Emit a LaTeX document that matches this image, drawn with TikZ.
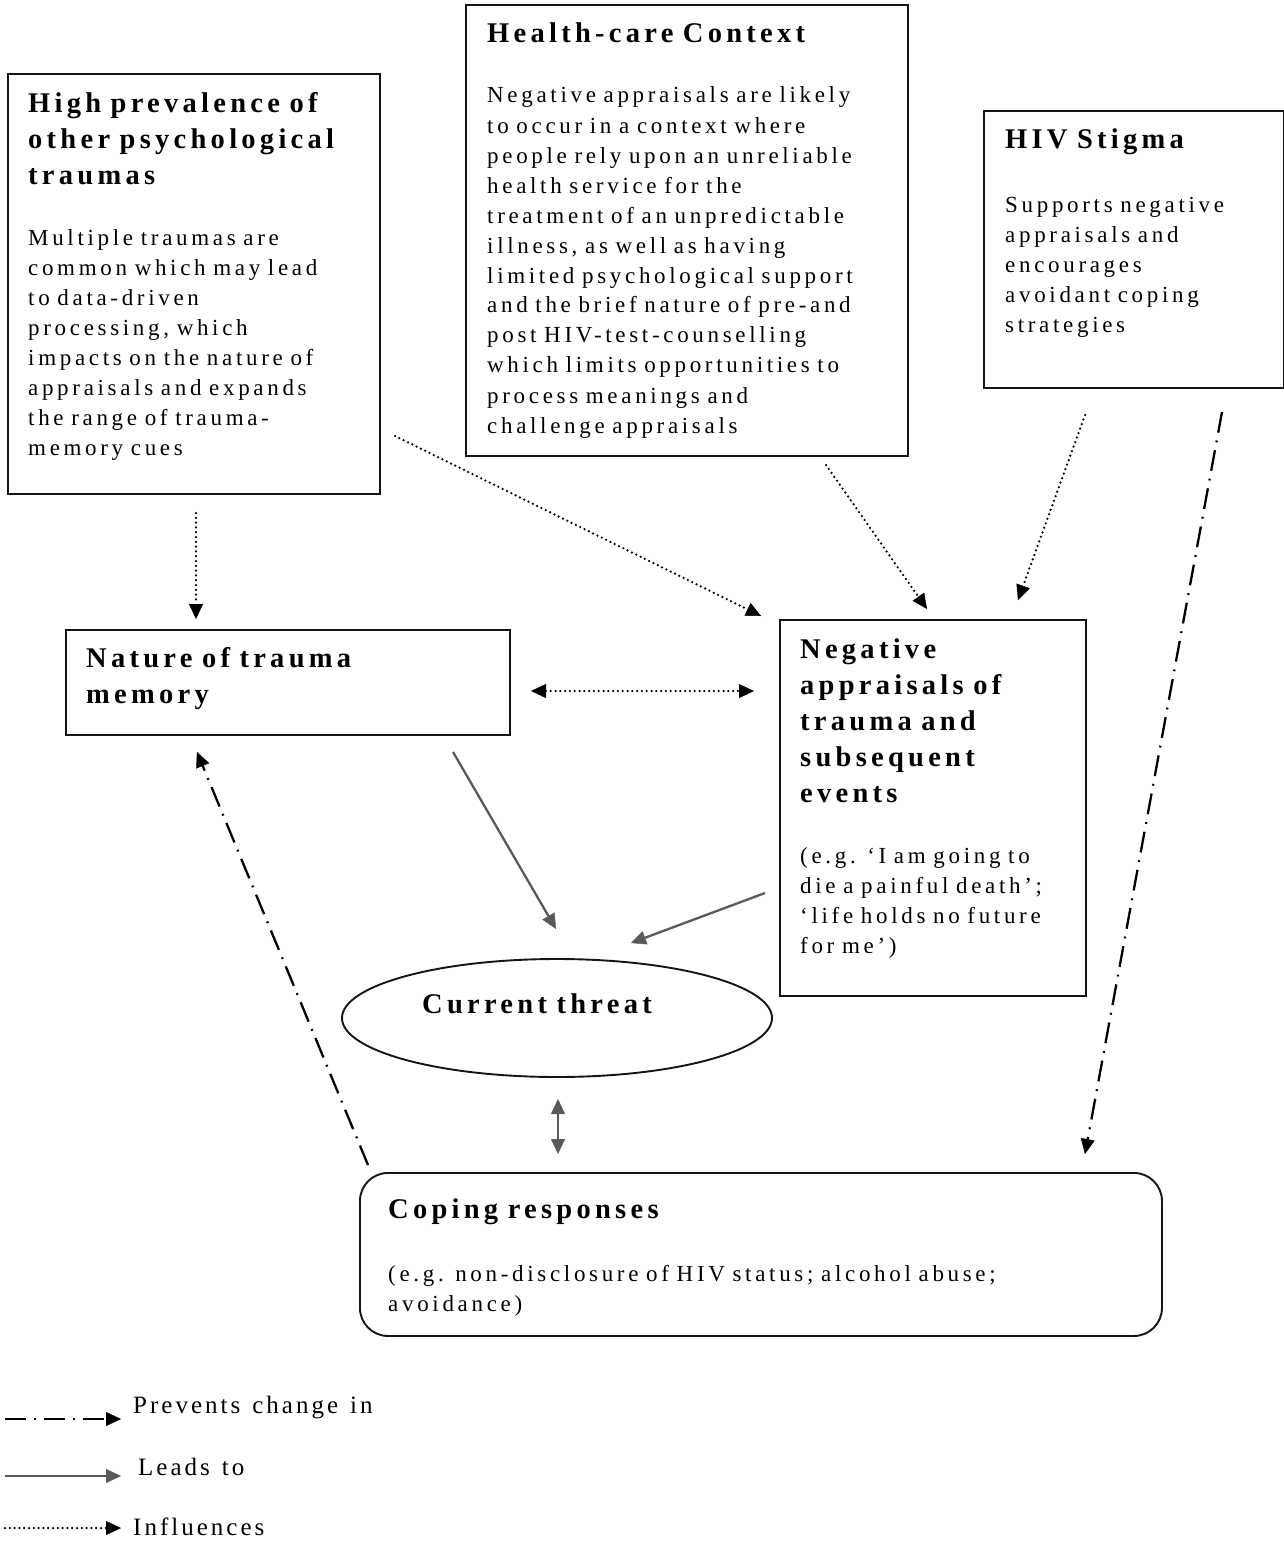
\documentclass[tikz,border=0pt]{standalone}
\usepackage{fontspec}
\setmainfont{Liberation Serif}
\newfontfamily\bodyfam{Liberation Serif}[LetterSpace=16]
\newfontfamily\titlefam{Liberation Serif}[LetterSpace=15]
\newfontfamily\legfam{Liberation Serif}[LetterSpace=12]
\usetikzlibrary{arrows.meta,shapes.geometric}
\definecolor{leadgray}{HTML}{5A5A5A}
\definecolor{boxline}{HTML}{151515}
\tikzset{
  box/.style={draw=boxline, line width=1.9pt, rectangle, inner sep=0pt, anchor=north west},
  ttl/.style={anchor=base west, inner sep=0pt, text width=440pt, align=left,
              font={\titlefam\bfseries\fontsize{28.5}{36}\selectfont\spaceskip=15pt plus 2pt\relax}},
  bdy/.style={anchor=base west, inner sep=0pt, text width=700pt, align=left,
              font={\bodyfam\fontsize{23}{30}\selectfont\spaceskip=12pt plus 2pt\relax}},
  leg/.style={anchor=base west, inner sep=0pt,
              font={\legfam\fontsize{25}{30}\selectfont\spaceskip=12pt plus 2pt\relax}},
  tipk/.tip={Triangle[length=15pt,width=14pt,line width=0.4pt]},
  infl/.style={line width=2.5pt, dash pattern=on 0pt off 4.8pt, line cap=round, black},
  prev/.style={line width=2.3pt, dash pattern=on 21pt off 8pt on 1.8pt off 8pt, black},
  lead/.style={line width=2.3pt, leadgray},
}
\begin{document}
\begin{tikzpicture}[x=1pt,y=-1pt]
\useasboundingbox (0,0) rectangle (1283,1544);
\fill[white] (0,0) rectangle (1283,1544);

% ---- boxes ----
\node[box, minimum width=372pt, minimum height=420pt] (A) at (7,73) {};
\node[ttl] (Atitle) at (28,113) {High prevalence of\\other psychological\\traumas};
\node[bdy] (Abody) at (28,245) {Multiple traumas are\\common which may lead\\to data-driven\\processing, which\\impacts on the nature of\\appraisals and expands\\the range of trauma-\\memory cues};

\node[box, minimum width=442pt, minimum height=451pt] (B) at (465,4) {};
\node[ttl] (Btitle) at (487,43) {Health-care Context};
\node[bdy] (Bbody) at (487,103) {Negative appraisals are likely\\to occur in a context where\\people rely upon an unreliable\\health service for the\\treatment of an unpredictable\\illness, as well as having\\limited psychological support\\and the brief nature of pre-and\\post HIV-test-counselling\\which limits opportunities to\\process meanings and\\challenge appraisals};

\node[box, minimum width=300pt, minimum height=277pt] (C) at (983,110) {};
\node[ttl] (Ctitle) at (1005,149) {HIV Stigma};
\node[bdy] (Cbody) at (1005,212) {Supports negative\\appraisals and\\encourages\\avoidant coping\\strategies};

\node[box, minimum width=444pt, minimum height=105pt] (D) at (65,629) {};
\node[ttl] (Dtitle) at (86,667) {Nature of trauma\\memory};

\node[box, minimum width=306pt, minimum height=376pt] (E) at (779,619) {};
\node[ttl] (Etitle) at (800,658) {Negative\\appraisals of\\trauma and\\subsequent\\events};
\node[bdy] (Ebody) at (800,863) {(e.g. ‘I am going to\\die a painful death’;\\‘life holds no future\\for me’)};

\node[draw=boxline, line width=1.9pt, ellipse, minimum width=430pt, minimum height=118pt, inner sep=0pt] (T) at (557,1018) {};
\node[ttl, text width=300pt] (Ttitle) at (422,1013) {Current threat};

\node[box, rounded corners=28pt, minimum width=802pt, minimum height=163pt] (F) at (359,1172) {};
\node[ttl] (Ftitle) at (388,1218) {Coping responses};
\node[bdy] (Fbody) at (388,1281) {(e.g. non-disclosure of HIV status; alcohol abuse;\\avoidance)};

% ---- connector end points ----
\coordinate (ad1) at (196,513);  \coordinate (ad2) at (196,619);
\coordinate (ae1) at (395,436);  \coordinate (ae2) at (761,616);
\coordinate (be1) at (826,465);  \coordinate (be2) at (927,609);
\coordinate (ce1) at (1085,415); \coordinate (ce2) at (1018,600);
\coordinate (cf1) at (1222,412); \coordinate (cf2) at (1085,1154);
\coordinate (de1) at (531,691);  \coordinate (de2) at (754,691);
\coordinate (dt1) at (453,752);  \coordinate (dt2) at (556,929);
\coordinate (et1) at (765,893);  \coordinate (et2) at (631,943);
\coordinate (tf1) at (558,1099); \coordinate (tf2) at (558,1154);
\coordinate (fd1) at (368,1165); \coordinate (fd2) at (197,752);

\draw[infl, -tipk] (ad1) -- (ad2);
\draw[infl, -tipk] (ae1) -- (ae2);
\draw[infl, -tipk] (be1) -- (be2);
\draw[infl, -tipk] (ce1) -- (ce2);
\draw[infl, tipk-tipk] (de1) -- (de2);
\draw[prev, -tipk] (cf1) -- (cf2);
\draw[prev, -tipk] (fd1) -- (fd2);
\draw[lead, -tipk] (dt1) -- (dt2);
\draw[lead, -tipk] (et1) -- (et2);
\draw[lead, tipk-tipk] (tf1) -- (tf2);

% ---- legend ----
\coordinate (l1a) at (5,1419); \coordinate (l1b) at (121,1419);
\coordinate (l2a) at (5,1476); \coordinate (l2b) at (121,1476);
\coordinate (l3a) at (5,1528); \coordinate (l3b) at (121,1528);
\draw[prev, -tipk] (l1a) -- (l1b);
\draw[lead, -tipk] (l2a) -- (l2b);
\draw[infl, -tipk] (l3a) -- (l3b);
\node[leg] (L1) at (133,1413) {Prevents change in};
\node[leg] (L2) at (138,1475) {Leads to};
\node[leg] (L3) at (133,1535) {Influences};
\end{tikzpicture}
\end{document}
